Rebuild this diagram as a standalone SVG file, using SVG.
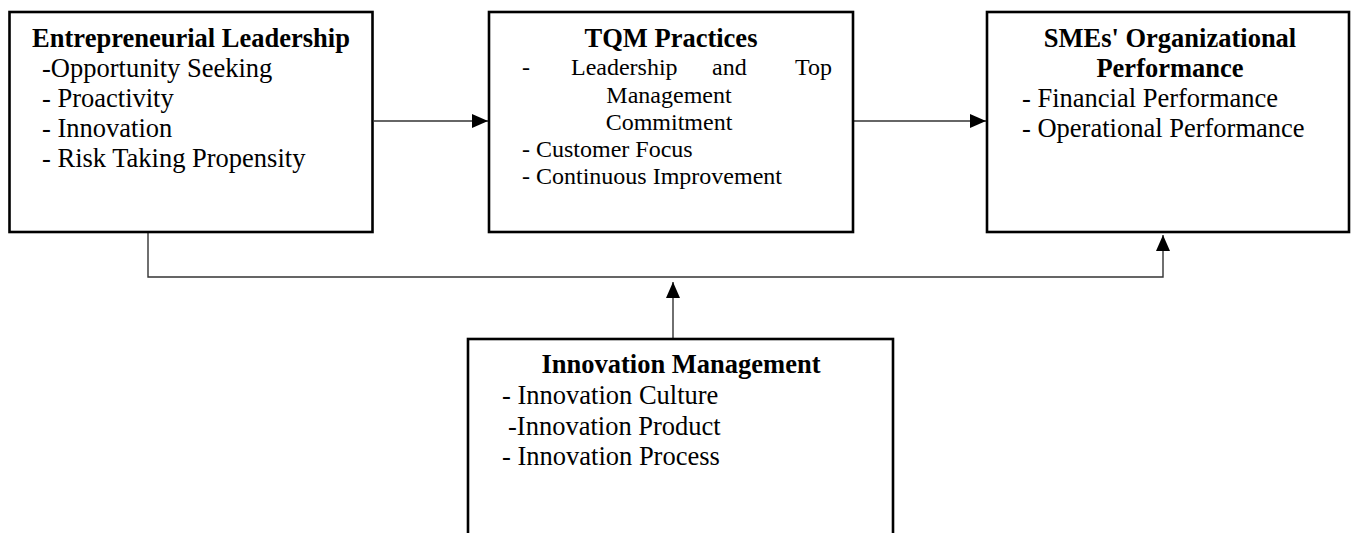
<svg xmlns="http://www.w3.org/2000/svg" width="1352" height="533" viewBox="0 0 1352 533">
  <style>
    .box { fill: #ffffff; stroke: #000000; stroke-width: 2.6; }
    .link { fill: none; stroke: #333333; stroke-width: 1.4; }
    .title { font-family: "Liberation Serif", "Times New Roman", serif; font-weight: bold; font-size: 26.5px; fill: #000000; }
    .item { font-family: "Liberation Serif", "Times New Roman", serif; font-size: 26.5px; fill: #000000; }
    .item-sm { font-family: "Liberation Serif", "Times New Roman", serif; font-size: 24px; fill: #000000; }
  </style>
  <defs>
    <marker id="arrow" viewBox="0 0 16 14" refX="16" refY="7" markerWidth="16" markerHeight="14" markerUnits="userSpaceOnUse" orient="auto">
      <path d="M0,0 L16,7 L0,14 Z" fill="#000000"/>
    </marker>
  </defs>

  <rect width="1352" height="533" fill="#ffffff"/>

  <!-- connectors -->
  <g id="connectors">
    <line class="link" x1="374" y1="121" x2="488" y2="121" marker-end="url(#arrow)"/>
    <line class="link" x1="854" y1="121" x2="986" y2="121" marker-end="url(#arrow)"/>
    <polyline class="link" points="148,233 148,277 1163,277 1163,235" marker-end="url(#arrow)"/>
    <line class="link" x1="673" y1="338" x2="673" y2="282" marker-end="url(#arrow)"/>
  </g>

  <!-- Entrepreneurial Leadership -->
  <g id="entrepreneurial-leadership">
    <rect class="box" x="9.5" y="12" width="363" height="220"/>
    <text class="title" x="191" y="47" text-anchor="middle">Entrepreneurial Leadership</text>
    <text class="item" x="42" y="77">-Opportunity Seeking</text>
    <text class="item" x="42" y="107">- Proactivity</text>
    <text class="item" x="42" y="137">- Innovation</text>
    <text class="item" x="42" y="167">- Risk Taking Propensity</text>
  </g>

  <!-- TQM Practices -->
  <g id="tqm-practices">
    <rect class="box" x="489" y="12" width="364" height="220"/>
    <text class="title" x="671" y="47" text-anchor="middle">TQM Practices</text>
    <text class="item-sm" x="522" y="75">-</text>
    <text class="item-sm" x="571" y="75">Leadership</text>
    <text class="item-sm" x="712" y="75">and</text>
    <text class="item-sm" x="832" y="75" text-anchor="end">Top</text>
    <text class="item-sm" x="669" y="103" text-anchor="middle">Management</text>
    <text class="item-sm" x="669" y="130" text-anchor="middle">Commitment</text>
    <text class="item-sm" x="522" y="157">- Customer Focus</text>
    <text class="item-sm" x="522" y="184">- Continuous Improvement</text>
  </g>

  <!-- SMEs' Organizational Performance -->
  <g id="smes-performance">
    <rect class="box" x="987" y="12" width="362" height="220"/>
    <text class="title" x="1170" y="47" text-anchor="middle">SMEs' Organizational</text>
    <text class="title" x="1170" y="77" text-anchor="middle">Performance</text>
    <text class="item" x="1022" y="107">- Financial Performance</text>
    <text class="item" x="1022" y="137">- Operational Performance</text>
  </g>

  <!-- Innovation Management -->
  <g id="innovation-management">
    <rect class="box" x="468" y="339" width="425" height="210"/>
    <text class="title" x="681" y="373" text-anchor="middle">Innovation Management</text>
    <text class="item" x="502" y="404">- Innovation Culture</text>
    <text class="item" x="508" y="435">-Innovation Product</text>
    <text class="item" x="502" y="465">- Innovation Process</text>
  </g>
</svg>
